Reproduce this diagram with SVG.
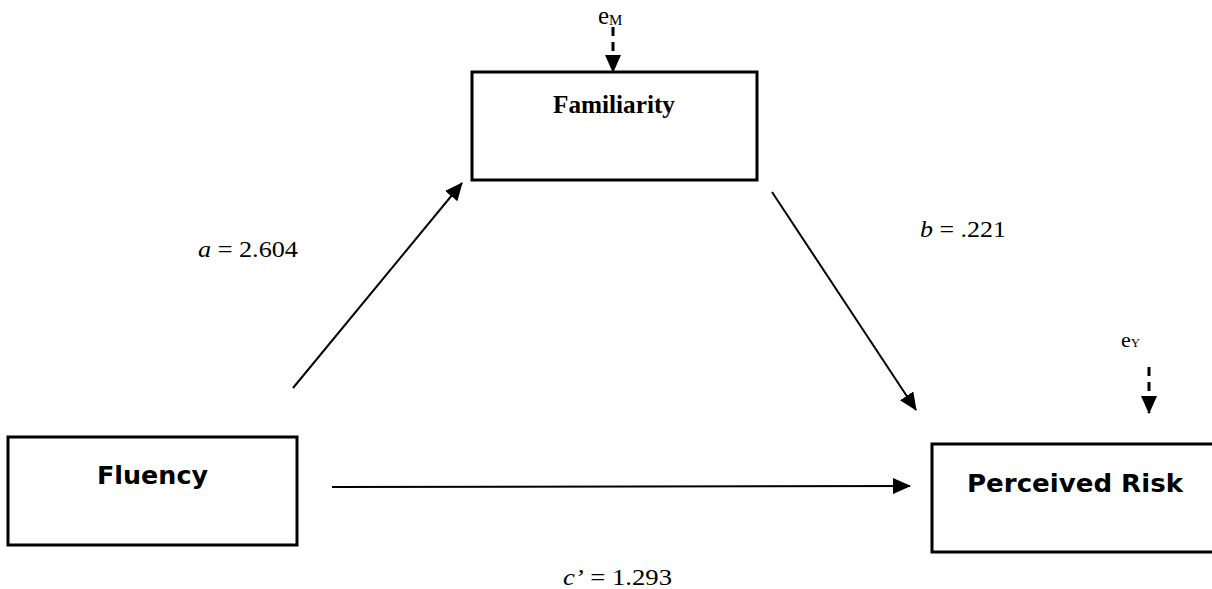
<svg xmlns="http://www.w3.org/2000/svg" width="1212" height="589" viewBox="0 0 1212 589">
<style>
.box{fill:#fff;stroke:#000;stroke-width:3}
.ser{font-family:"Liberation Serif","Times New Roman",serif;fill:#000}
.sans{font-family:"DejaVu Sans",Verdana,sans-serif;font-weight:bold;fill:#000}
.arr{stroke:#000;stroke-width:2;fill:none}
.dash{stroke:#000;stroke-width:3;fill:none;stroke-dasharray:9 6}
</style>
<defs>
<marker id="ah" markerUnits="userSpaceOnUse" markerWidth="18" markerHeight="16" refX="17" refY="8" orient="auto">
<path d="M0,0 L18,8 L0,16 Z" fill="#000"/>
</marker>
</defs>
<rect width="1212" height="589" fill="#fff"/>
<g id="familiarity">
<rect class="box" x="472" y="72" width="285" height="108"/>
<text class="ser" x="614" y="113" font-size="25" font-weight="bold" text-anchor="middle" textLength="122" lengthAdjust="spacingAndGlyphs">Familiarity</text>
</g>
<g id="fluency">
<rect class="box" x="8" y="437" width="289" height="108"/>
<text class="sans" x="152.5" y="484" font-size="25" text-anchor="middle" textLength="111" lengthAdjust="spacingAndGlyphs">Fluency</text>
</g>
<g id="perceived-risk">
<rect class="box" x="932" y="444" width="290" height="108"/>
<text class="sans" x="1075" y="492" font-size="25" text-anchor="middle" textLength="216" lengthAdjust="spacingAndGlyphs">Perceived Risk</text>
</g>
<g id="eM">
<text class="ser" x="598" y="24" font-size="25">e<tspan font-size="15" dy="1">M</tspan></text>
</g>
<g id="eY">
<text class="ser" x="1121" y="347" font-size="22">e<tspan font-size="13">Y</tspan></text>
</g>
<g id="connectors">
<line class="arr" x1="293" y1="388" x2="462" y2="183" marker-end="url(#ah)"/>
<line class="arr" x1="772" y1="192" x2="916" y2="410" marker-end="url(#ah)"/>
<line class="arr" x1="332" y1="487" x2="910" y2="486" marker-end="url(#ah)"/>
<line class="dash" x1="613" y1="27" x2="613" y2="72" marker-end="url(#ah)"/>
<line class="dash" x1="1149" y1="367" x2="1149" y2="413" marker-end="url(#ah)"/>
</g>
<g id="labels">
<text class="ser" x="198" y="257" font-size="23" textLength="100" lengthAdjust="spacingAndGlyphs"><tspan font-style="italic">a</tspan> = 2.604</text>
<text class="ser" x="920" y="237" font-size="23" textLength="86" lengthAdjust="spacingAndGlyphs"><tspan font-style="italic">b</tspan> = .221</text>
<text class="ser" x="563" y="585" font-size="23" textLength="109" lengthAdjust="spacingAndGlyphs"><tspan font-style="italic">c’</tspan> = 1.293</text>
</g>
</svg>
